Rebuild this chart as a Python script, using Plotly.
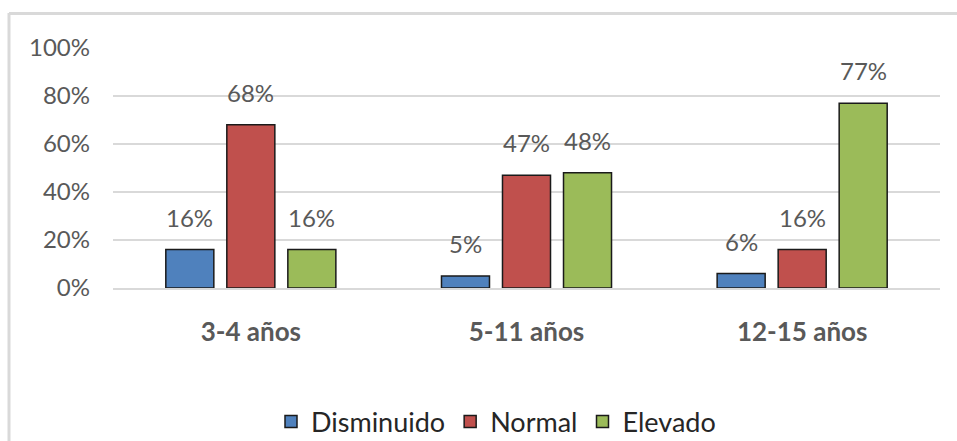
import plotly.graph_objects as go

categories = ["3-4 años", "5-11 años", "12-15 años"]
series_names = ["Disminuido", "Normal", "Elevado"]
disminuido = [16, 5, 6]
normal = [68, 47, 16]
elevado = [16, 48, 77]
values = [disminuido, normal, elevado]
colors = ["#4F81BD", "#C0504D", "#9BBB59"]
y_ticks = [0, 20, 40, 60, 80, 100]
y_tick_labels = ["0%", "20%", "40%", "60%", "80%", "100%"]

W, H = 957, 441
ML, MR, MT, MB = 113, 17, 48, 153
PW = W - ML - MR
PH = H - MT - MB
BARGAP = 0.336
BARGROUPGAP = 0.213
FONT = "Lato"
GRAY = "#595959"

fig = go.Figure()
for name, vals, col in zip(series_names, values, colors):
    fig.add_trace(go.Bar(
        name=name, x=categories, y=vals,
        marker=dict(color=col, line=dict(color="#1a1a1a", width=1.5)),
    ))

slot = PW / len(categories) * (1 - BARGAP) / len(series_names)
annotations = []
for i, vals in enumerate(values):
    for c, v in zip(categories, vals):
        annotations.append(dict(
            x=c, y=v, xref="x", yref="y", text=f"{v}%", showarrow=False,
            xshift=(i - 1) * slot, yshift=16, yanchor="bottom",
            font=dict(family=FONT, size=24, color=GRAY),
        ))

fig.update_layout(
    width=W, height=H,
    margin=dict(l=ML, r=MR, t=MT, b=MB, autoexpand=False),
    paper_bgcolor="white", plot_bgcolor="white",
    barmode="group", bargap=BARGAP, bargroupgap=BARGROUPGAP,
    font=dict(family=FONT, color=GRAY),
    annotations=annotations,
    showlegend=True,
    legend=dict(
        orientation="h", x=(496 - ML) / PW, xanchor="center",
        yref="container", y=1 - 422 / H, yanchor="middle",
        font=dict(family=FONT, size=27, color="#262626"),
        itemwidth=30, traceorder="normal",
    ),
    shapes=[
        dict(type="line", xref="paper", yref="paper",
             x0=(9 - ML) / PW, x1=(9 - ML) / PW,
             y0=1 + (MT - 13) / PH, y1=-(H + 10 - MT - PH) / PH,
             line=dict(color="#D9D9D9", width=3)),
        dict(type="line", xref="paper", yref="paper",
             x0=(9 - ML) / PW, x1=(W + 10 - ML) / PW,
             y0=1 + (MT - 13.5) / PH, y1=1 + (MT - 13.5) / PH,
             line=dict(color="#D9D9D9", width=3)),
    ],
)
fig.update_yaxes(
    range=[0, 100], tickvals=y_ticks, ticktext=y_tick_labels,
    showgrid=True, gridcolor="#D9D9D9", gridwidth=1.5,
    zeroline=False, showline=False, ticks="", ticklabelstandoff=22,
    tickfont=dict(family=FONT, size=24, color=GRAY), fixedrange=True,
    automargin=False,
)
fig.update_xaxes(
    showgrid=False, showline=True, linecolor="#D9D9D9", linewidth=1.5,
    ticks="", ticklabelstandoff=20, automargin=False,
    tickfont=dict(family=FONT, size=26, color=GRAY, weight="bold"),
)
fig.write_html("out.html")
